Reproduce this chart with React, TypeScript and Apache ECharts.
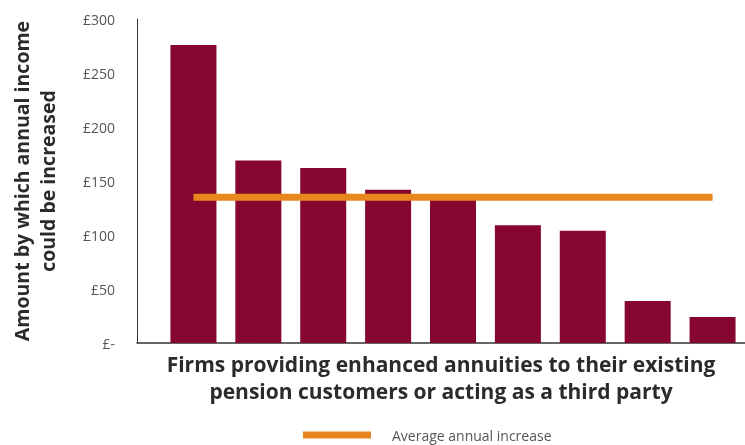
import React, { useEffect, useRef } from "react";
import * as echarts from "echarts";

const firmValues: number[] = [276, 169, 162, 142, 135, 109, 104, 39, 24];
const averageIncrease = 135;
const yTicks = { min: 0, max: 300, interval: 50 };
const seriesNames = { bars: "Firms", average: "Average annual increase" };
const yTitle = "Amount by which annual income\ncould be increased";
const xTitle = "Firms providing enhanced annuities to their existing\npension customers or acting as a third party";

export default function App() {
  const ref = useRef<HTMLDivElement>(null);
  useEffect(() => {
    if (!ref.current) return;
    const chart = echarts.init(ref.current, undefined, { renderer: "svg" });
    const font = "'Open Sans', 'Noto Sans', sans-serif";
    chart.setOption({
      animation: false,
      textStyle: { fontFamily: font },
      grid: { left: 137, right: 0, top: 19, bottom: 102, containLabel: false },
      legend: {
        data: [{ name: seriesNames.average, icon: "rect" }],
        left: 303,
        top: 428,
        padding: 0,
        itemWidth: 68,
        itemHeight: 7,
        textStyle: { color: "#555", fontSize: 14, fontFamily: font, padding: [0, 0, 0, 16] },
      },
      xAxis: {
        type: "value",
        min: -0.87,
        max: 8.5,
        axisLabel: { show: false },
        axisTick: { show: false },
        splitLine: { show: false },
        axisLine: { show: true, onZero: false, lineStyle: { color: "#333", width: 1.5 } },
        name: xTitle,
        nameLocation: "middle",
        nameGap: 7,
        nameTextStyle: {
          fontSize: 21,
          fontWeight: "bold",
          color: "#2b2b2b",
          lineHeight: 27,
          verticalAlign: "top",
          fontFamily: font,
        },
      },
      yAxis: {
        type: "value",
        min: yTicks.min,
        max: yTicks.max,
        interval: yTicks.interval,
        axisLine: { show: true, onZero: false, lineStyle: { color: "#333", width: 1 } },
        axisTick: { show: false },
        splitLine: { show: false },
        axisLabel: {
          margin: 22,
          color: "#555",
          fontSize: 14,
          fontFamily: font,
          formatter: (v: number) => (v === 0 ? "£-" : "£" + v),
        },
        name: yTitle,
        nameLocation: "middle",
        nameRotate: 90,
        nameGap: 77,
        nameTextStyle: {
          fontSize: 19.5,
          fontWeight: "bold",
          color: "#2b2b2b",
          lineHeight: 26,
          fontFamily: font,
        },
      },
      series: [
        {
          name: seriesNames.bars,
          type: "bar",
          barWidth: 46,
          itemStyle: { color: "#870531" },
          data: firmValues.map((v, i) => [i, v]),
          z: 2,
        },
        {
          name: seriesNames.average,
          type: "line",
          symbol: "none",
          itemStyle: { color: "#E8871E" },
          lineStyle: { color: "#E8871E", width: 7, cap: "butt" },
          data: [
            [0, averageIncrease],
            [firmValues.length - 1, averageIncrease],
          ],
          z: 3,
        },
      ],
    });
    return () => chart.dispose();
  }, []);
  return (
    <div
      ref={ref}
      style={{ position: "fixed", left: 0, top: 0, width: 745, height: 445 }}
    />
  );
}
